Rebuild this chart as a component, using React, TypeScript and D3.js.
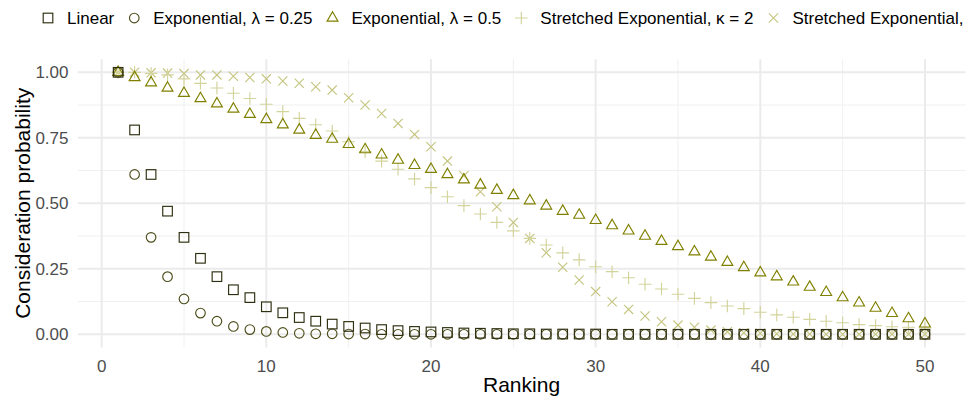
import React, { useEffect, useRef } from "react";
import * as d3 from "d3";

// Rank positions 1..50
const ranks = [
  1, 2, 3, 4, 5, 6, 7, 8, 9, 10, 11, 12, 13, 14, 15, 16, 17, 18, 19, 20,
  21, 22, 23, 24, 25, 26, 27, 28, 29, 30, 31, 32, 33, 34, 35, 36, 37, 38, 39, 40,
  41, 42, 43, 44, 45, 46, 47, 48, 49, 50,
];

// Consideration probability per rank, one array per model
const linearProb = [
  1.0, 0.78, 0.61, 0.47, 0.37, 0.29, 0.22, 0.17, 0.14, 0.105,
  0.082, 0.064, 0.05, 0.039, 0.03, 0.024, 0.018, 0.014, 0.011, 0.009,
  0.007, 0.005, 0.004, 0.003, 0.002, 0.002, 0.001, 0.001, 0.001, 0.001,
  0, 0, 0, 0, 0, 0, 0, 0, 0, 0,
  0, 0, 0, 0, 0, 0, 0, 0, 0, 0,
];
const exp025Prob = [
  1.0, 0.61, 0.37, 0.22, 0.135, 0.081, 0.05, 0.03, 0.018, 0.011,
  0.007, 0.004, 0.002, 0.002, 0.001, 0.001, 0, 0, 0, 0,
  0, 0, 0, 0, 0, 0, 0, 0, 0, 0,
  0, 0, 0, 0, 0, 0, 0, 0, 0, 0,
  0, 0, 0, 0, 0, 0, 0, 0, 0, 0,
];
const exp05Prob = [
  1.0, 0.98, 0.96, 0.94, 0.92, 0.9, 0.88, 0.86, 0.84, 0.82,
  0.8, 0.78, 0.76, 0.745, 0.725, 0.705, 0.685, 0.665, 0.645, 0.63,
  0.61, 0.59, 0.57, 0.55, 0.53, 0.51, 0.49, 0.47, 0.455, 0.435,
  0.415, 0.395, 0.375, 0.355, 0.335, 0.315, 0.295, 0.275, 0.255, 0.235,
  0.22, 0.2, 0.18, 0.16, 0.14, 0.12, 0.1, 0.08, 0.06, 0.04,
];
const stretched2Prob = [
  1.0, 1.0, 0.996, 0.99, 0.975, 0.958, 0.94, 0.92, 0.9, 0.878,
  0.85, 0.824, 0.8, 0.776, 0.735, 0.697, 0.661, 0.63, 0.593, 0.56,
  0.525, 0.491, 0.459, 0.427, 0.395, 0.366, 0.341, 0.311, 0.284, 0.258,
  0.239, 0.216, 0.191, 0.173, 0.153, 0.137, 0.121, 0.108, 0.098, 0.084,
  0.074, 0.065, 0.057, 0.05, 0.044, 0.037, 0.033, 0.029, 0.027, 0.024,
];
const stretchedProb = [
  1.0, 1.0, 0.998, 0.997, 0.995, 0.99, 0.99, 0.985, 0.98, 0.975,
  0.967, 0.958, 0.945, 0.932, 0.903, 0.875, 0.843, 0.805, 0.763, 0.716,
  0.661, 0.605, 0.544, 0.487, 0.427, 0.366, 0.311, 0.256, 0.207, 0.163,
  0.124, 0.095, 0.07, 0.048, 0.035, 0.027, 0.016, 0.01, 0.006, 0.004,
  0.002, 0.001, 0.001, 0, 0, 0, 0, 0, 0, 0,
];

const seriesLabels = [
  "Linear",
  "Exponential, λ = 0.25",
  "Exponential, λ = 0.5",
  "Stretched Exponential, κ = 2",
  "Stretched Exponential,",
];
const seriesColors = ["#2e2e10", "#4e4e1c", "#808000", "#d3d39c", "#c5c580"];
const seriesShapes = ["square", "circle", "triangle", "plus", "cross"];
const seriesValues = [linearProb, exp025Prob, exp05Prob, stretched2Prob, stretchedProb];

const xTicks = [0, 10, 20, 30, 40, 50];
const xMinor = [5, 15, 25, 35, 45];
const yTicks = [0, 0.25, 0.5, 0.75, 1];
const yMinor = [0.125, 0.375, 0.625, 0.875];
const yTickLabels = ["0.00", "0.25", "0.50", "0.75", "1.00"];

const W = 973;
const H = 400;
const FONT = "'Liberation Sans', Arial, Helvetica, sans-serif";

function drawShape(g: d3.Selection<SVGGElement, unknown, null, undefined>, shape: string, color: string) {
  const sw = 1.15;
  if (shape === "square") {
    g.append("rect").attr("x", -4.8).attr("y", -4.8).attr("width", 9.6).attr("height", 9.6)
      .attr("fill", "none").attr("stroke", color).attr("stroke-width", sw);
  } else if (shape === "circle") {
    g.append("circle").attr("r", 4.8).attr("fill", "none").attr("stroke", color).attr("stroke-width", sw);
  } else if (shape === "triangle") {
    g.append("path").attr("d", "M0,-6.3L5.45,3.15L-5.45,3.15Z")
      .attr("fill", "none").attr("stroke", color).attr("stroke-width", sw);
  } else if (shape === "plus") {
    g.append("path").attr("d", "M-6.3,0H6.3M0,-6.3V6.3")
      .attr("fill", "none").attr("stroke", color).attr("stroke-width", sw);
  } else {
    g.append("path").attr("d", "M-4.6,-4.6L4.6,4.6M-4.6,4.6L4.6,-4.6")
      .attr("fill", "none").attr("stroke", color).attr("stroke-width", sw);
  }
}

export default function App() {
  const ref = useRef<SVGSVGElement | null>(null);

  useEffect(() => {
    const svg = d3.select(ref.current);
    svg.selectAll("*").remove();

    const x = d3.scaleLinear().domain([-1.45, 52.45]).range([77.8, 965.3]);
    const y = d3.scaleLinear().domain([-0.05, 1.05]).range([347.4, 59.2]);
    const [x0, x1] = x.range();
    const [y0, y1] = y.range();

    const grid = svg.append("g");
    grid.selectAll("line.ym").data(yMinor).join("line")
      .attr("x1", x0).attr("x2", x1).attr("y1", (d) => y(d)).attr("y2", (d) => y(d))
      .attr("stroke", "#f0f0f0").attr("stroke-width", 1);
    grid.selectAll("line.xm").data(xMinor).join("line")
      .attr("y1", y0).attr("y2", y1).attr("x1", (d) => x(d)).attr("x2", (d) => x(d))
      .attr("stroke", "#f0f0f0").attr("stroke-width", 1);
    grid.append("g").selectAll("line").data(yTicks).join("line")
      .attr("x1", x0).attr("x2", x1).attr("y1", (d) => y(d)).attr("y2", (d) => y(d))
      .attr("stroke", "#ebebeb").attr("stroke-width", 2);
    grid.append("g").selectAll("line").data(xTicks).join("line")
      .attr("y1", y0).attr("y2", y1).attr("x1", (d) => x(d)).attr("x2", (d) => x(d))
      .attr("stroke", "#ebebeb").attr("stroke-width", 2);

    // tick labels
    svg.append("g").selectAll("text").data(yTicks).join("text")
      .attr("x", 68.5).attr("y", (d) => y(d)).attr("dy", "0.36em")
      .attr("text-anchor", "end").attr("font-family", FONT).attr("font-size", 17)
      .attr("fill", "#4d4d4d").text((d, i) => yTickLabels[i]);
    svg.append("g").selectAll("text").data(xTicks).join("text")
      .attr("x", (d) => x(d)).attr("y", 372)
      .attr("text-anchor", "middle").attr("font-family", FONT).attr("font-size", 17)
      .attr("fill", "#4d4d4d").text((d) => String(d));

    // axis titles
    svg.append("text").attr("x", (x0 + x1) / 2).attr("y", 392)
      .attr("text-anchor", "middle").attr("font-family", FONT).attr("font-size", 21)
      .attr("fill", "#000").text("Ranking");
    svg.append("text")
      .attr("transform", `translate(30,${(y0 + y1) / 2}) rotate(-90)`)
      .attr("text-anchor", "middle").attr("font-family", FONT).attr("font-size", 21)
      .attr("fill", "#000").text("Consideration probability");

    // points, lightest series first
    const order = [4, 3, 2, 1, 0];
    order.forEach((si) => {
      const layer = svg.append("g");
      seriesValues[si].forEach((v, i) => {
        const g = layer.append("g").attr("transform", `translate(${x(ranks[i])},${y(v)})`);
        drawShape(g, seriesShapes[si], seriesColors[si]);
      });
    });

    // legend across the top
    const legend = svg.append("g");
    let cursor = 48;
    seriesLabels.forEach((label, si) => {
      const key = legend.append("g").attr("transform", `translate(${cursor},18)`);
      drawShape(key, seriesShapes[si], seriesColors[si]);
      const t = legend.append("text").attr("x", cursor + 19).attr("y", 24)
        .attr("font-family", FONT).attr("font-size", 17).attr("fill", "#000").text(label);
      const len = (t.node() as SVGTextElement).getComputedTextLength();
      cursor = cursor + 19 + len + 20;
    });
  }, []);

  return (
    <svg
      ref={ref}
      width={W}
      height={H}
      style={{ position: "absolute", left: 0, top: 0, display: "block", background: "#fff" }}
    />
  );
}
